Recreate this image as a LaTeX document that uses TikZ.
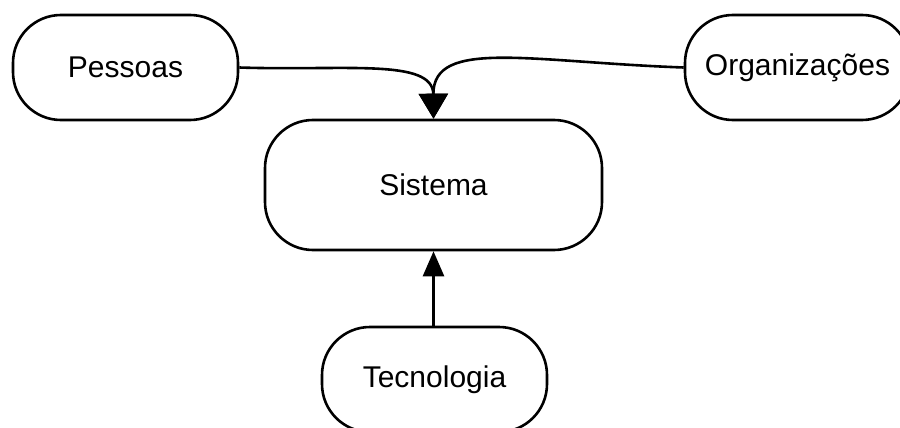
\documentclass[tikz,border=0pt]{standalone}
\usepackage{fontspec}
\setmainfont{Liberation Sans}
\usetikzlibrary{arrows.meta}
\begin{document}
\begin{tikzpicture}[x=1pt,y=-1pt,
  pill/.style={draw=black, line width=2.6pt, rounded corners=48pt, fill=white,
    font=\fontsize{30}{36}\selectfont, inner sep=0pt},
  link/.style={draw=black, line width=2.6pt},
  bigtip/.style={-{Triangle[length=25pt,width=29pt]}},
  smalltip/.style={-{Triangle[length=25pt,width=21pt]}}]
\useasboundingbox (0,0) rectangle (900,428);
\clip (0,0) rectangle (900,428);
\fill[white] (0,0) rectangle (900,428);

% rounded boxes
\node[pill, minimum width=225pt, minimum height=105pt] (pessoas) at (125.5,67.5) {Pessoas};
\node[pill, minimum width=225pt, minimum height=105pt] (org) at (797.5,67.5) {Organizações};
\node[pill, minimum width=337pt, minimum height=130pt] (sistema) at (433.5,185) {Sistema};
\node[pill, minimum width=225pt, minimum height=105pt] (tec) at (434.5,379.5) {Tecnologia};

% connectors into the system
\draw[link, bigtip] (pessoas.east) .. controls (345,71) and (433,58) .. (sistema.north);
\draw[link, bigtip] (org.west) .. controls (530,62) and (433,38) .. (sistema.north);
\draw[link, smalltip] (tec.north -| sistema.south) -- (sistema.south);
\end{tikzpicture}
\end{document}
